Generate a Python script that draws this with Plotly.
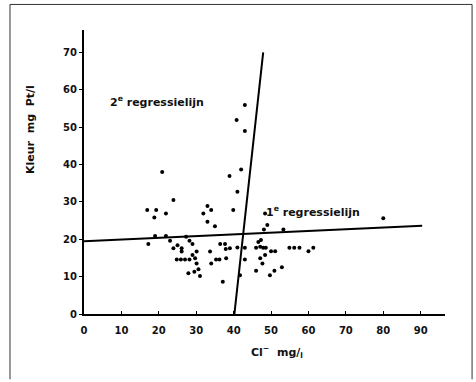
import plotly.graph_objects as go

# Scatter data: Cl- (mg/l) vs Kleur (mg Pt/l)
cl = [43.0, 40.8, 43.0, 20.9, 38.9, 42.0, 41.0, 23.9, 16.9, 19.3, 18.8, 21.9,
      33.0, 31.9, 34.0, 39.9, 33.0, 35.0, 19.0, 21.9, 27.3, 28.2, 17.2, 23.0,
      25.0, 29.0, 23.9, 26.1, 26.1, 30.1, 33.7, 36.4, 37.7, 37.9, 39.0, 41.0,
      29.0, 24.8, 25.9, 27.0, 28.2, 29.7, 30.1, 34.0, 35.3, 36.2, 38.0, 30.6,
      29.5, 27.9, 31.0, 48.4, 49.0, 48.1, 53.3, 43.0, 46.0, 47.1, 46.6, 47.3,
      47.9, 48.6, 50.0, 51.1, 54.9, 56.2, 57.6, 60.0, 61.3, 43.0, 47.1, 47.7,
      48.4, 46.0, 49.7, 50.9, 52.9, 41.7, 80.0, 37.1]
kleur = [55.9, 51.9, 49.0, 38.0, 36.9, 38.7, 32.7, 30.5, 27.8, 27.8, 25.8, 26.9,
         28.9, 26.9, 27.8, 27.8, 24.7, 23.5, 20.9, 20.9, 20.7, 19.6, 18.7, 19.6,
         18.4, 18.7, 17.6, 17.6, 16.7, 16.7, 16.7, 18.7, 18.7, 17.4, 17.6, 17.8,
         15.8, 14.6, 14.6, 14.6, 14.6, 14.9, 13.5, 13.5, 14.6, 14.6, 14.9, 12.0,
         11.3, 10.9, 10.2, 26.9, 23.8, 22.6, 22.6, 17.7, 17.7, 18.0, 19.3, 19.8,
         17.7, 17.7, 16.8, 16.8, 17.7, 17.7, 17.7, 16.8, 17.7, 14.6, 14.9, 13.5,
         15.8, 11.6, 10.4, 11.6, 12.5, 10.4, 25.6, 8.6]

# Regression lines (end points)
reg1_x = [0, 90.4]
reg1_y = [19.5, 23.6]
reg2_x = [40.2, 47.9]
reg2_y = [0, 70]

x_ticks = [0, 10, 20, 30, 40, 50, 60, 70, 80, 90]
y_ticks = [0, 10, 20, 30, 40, 50, 60, 70]

font = dict(family="DejaVu Sans", size=10, color="#111", weight="bold")
lab_font = dict(family="DejaVu Sans", size=11, color="#111", weight="bold")

fig = go.Figure()
fig.add_trace(go.Scatter(x=cl, y=kleur, mode="markers",
                         marker=dict(color="black", size=4), showlegend=False))
fig.add_trace(go.Scatter(x=reg1_x, y=reg1_y, mode="lines",
                         line=dict(color="black", width=2), showlegend=False))
fig.add_trace(go.Scatter(x=reg2_x, y=reg2_y, mode="lines",
                         line=dict(color="black", width=2), showlegend=False))

fig.add_annotation(x=6.5, y=57, text="2<sup>e</sup> regressielijn", showarrow=False,
                   xanchor="left", yanchor="middle", font=lab_font)
fig.add_annotation(x=48, y=27.5, text="1<sup>e</sup> regressielijn", showarrow=False,
                   xanchor="left", yanchor="middle", font=lab_font)

# axis titles
fig.add_annotation(xref="paper", yref="paper", x=-0.148, y=0.65, text="Kleur  mg  Pt/l",
                   textangle=-90, showarrow=False, xanchor="center", yanchor="middle",
                   font=dict(family="DejaVu Sans", size=11, color="#111"))
fig.add_annotation(xref="paper", yref="paper", x=0.535, y=-0.135, text="Cl<sup>−</sup>  mg/<sub>l</sub>",
                   showarrow=False, xanchor="center", yanchor="middle",
                   font=dict(family="DejaVu Sans", size=11, color="#111"))

# scan border
bl = dict(color="#333", width=1)
fig.add_shape(type="line", xref="paper", yref="paper", x0=-0.205, x1=1.075, y0=1.09, y1=1.09, line=bl)
fig.add_shape(type="line", xref="paper", yref="paper", x0=-0.205, x1=-0.205, y0=1.09, y1=-0.23, line=bl)
fig.add_shape(type="line", xref="paper", yref="paper", x0=1.075, x1=1.075, y0=1.09, y1=-0.23, line=bl)

fig.update_layout(
    width=476, height=382,
    margin=dict(l=84, r=31, t=30, b=68),
    paper_bgcolor="white", plot_bgcolor="white",
    font=font,
    xaxis=dict(range=[0, 96.5], tickvals=x_ticks, showgrid=False, zeroline=False,
               showline=True, linecolor="black", linewidth=2,
               ticks="inside", ticklen=3, tickcolor="black", ticklabelstandoff=6),
    yaxis=dict(range=[0, 76], tickvals=y_ticks, showgrid=False, zeroline=False,
               showline=True, linecolor="black", linewidth=2,
               ticks="outside", ticklen=3, tickcolor="black"),
)

fig.write_html("out.html")
